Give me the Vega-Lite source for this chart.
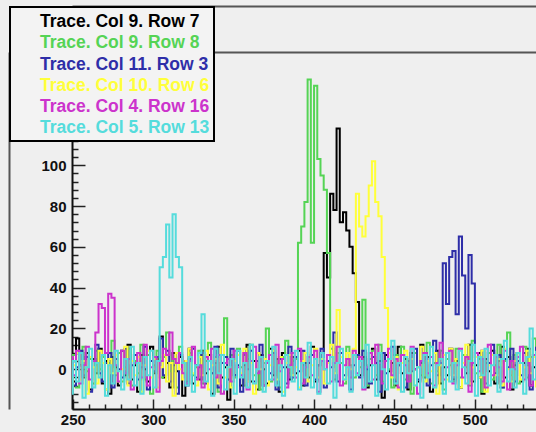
{
"$schema": "https://vega.github.io/schema/vega-lite/v6.json",
"width": 464, "height": 357,
"autosize": {"type": "none"},
"padding": {"left": 72, "top": 52, "right": 0, "bottom": 23},
"background": "#efefef",
"config": {"view": {"stroke": null}, "axis": {"labelFont": "Liberation Sans", "labelFontWeight": "bold", "labelFontSize": 15, "labelColor": "#111111", "grid": false, "title": null, "domainColor": "#111111", "tickColor": "#222222"}},
"datasets": {"traces": [
{"s":"Trace. Col 9. Row 7","x":248,"y":3},{"s":"Trace. Col 9. Row 7","x":250,"y":-6},{"s":"Trace. Col 9. Row 7","x":252,"y":15},{"s":"Trace. Col 9. Row 7","x":254,"y":2},{"s":"Trace. Col 9. Row 7","x":256,"y":-4},{"s":"Trace. Col 9. Row 7","x":258,"y":8},{"s":"Trace. Col 9. Row 7","x":260,"y":-10},{"s":"Trace. Col 9. Row 7","x":262,"y":5},{"s":"Trace. Col 9. Row 7","x":264,"y":-2},{"s":"Trace. Col 9. Row 7","x":266,"y":10},
{"s":"Trace. Col 9. Row 7","x":268,"y":-7},{"s":"Trace. Col 9. Row 7","x":270,"y":4},{"s":"Trace. Col 9. Row 7","x":272,"y":-12},{"s":"Trace. Col 9. Row 7","x":274,"y":6},{"s":"Trace. Col 9. Row 7","x":276,"y":1},{"s":"Trace. Col 9. Row 7","x":278,"y":-8},{"s":"Trace. Col 9. Row 7","x":280,"y":9},{"s":"Trace. Col 9. Row 7","x":282,"y":-3},{"s":"Trace. Col 9. Row 7","x":284,"y":12},{"s":"Trace. Col 9. Row 7","x":286,"y":-5},
{"s":"Trace. Col 9. Row 7","x":288,"y":2},{"s":"Trace. Col 9. Row 7","x":290,"y":-11},{"s":"Trace. Col 9. Row 7","x":292,"y":7},{"s":"Trace. Col 9. Row 7","x":294,"y":0},{"s":"Trace. Col 9. Row 7","x":296,"y":-6},{"s":"Trace. Col 9. Row 7","x":298,"y":11},{"s":"Trace. Col 9. Row 7","x":300,"y":-2},{"s":"Trace. Col 9. Row 7","x":302,"y":5},{"s":"Trace. Col 9. Row 7","x":304,"y":16},{"s":"Trace. Col 9. Row 7","x":306,"y":-4},
{"s":"Trace. Col 9. Row 7","x":308,"y":3},{"s":"Trace. Col 9. Row 7","x":310,"y":-9},{"s":"Trace. Col 9. Row 7","x":312,"y":8},{"s":"Trace. Col 9. Row 7","x":314,"y":-1},{"s":"Trace. Col 9. Row 7","x":316,"y":6},{"s":"Trace. Col 9. Row 7","x":318,"y":-13},{"s":"Trace. Col 9. Row 7","x":320,"y":4},{"s":"Trace. Col 9. Row 7","x":322,"y":10},{"s":"Trace. Col 9. Row 7","x":324,"y":-7},{"s":"Trace. Col 9. Row 7","x":326,"y":2},
{"s":"Trace. Col 9. Row 7","x":328,"y":-5},{"s":"Trace. Col 9. Row 7","x":330,"y":9},{"s":"Trace. Col 9. Row 7","x":332,"y":-2},{"s":"Trace. Col 9. Row 7","x":334,"y":7},{"s":"Trace. Col 9. Row 7","x":336,"y":-12},{"s":"Trace. Col 9. Row 7","x":338,"y":3},{"s":"Trace. Col 9. Row 7","x":340,"y":11},{"s":"Trace. Col 9. Row 7","x":342,"y":-4},{"s":"Trace. Col 9. Row 7","x":344,"y":1},{"s":"Trace. Col 9. Row 7","x":346,"y":-15},
{"s":"Trace. Col 9. Row 7","x":348,"y":5},{"s":"Trace. Col 9. Row 7","x":350,"y":-3},{"s":"Trace. Col 9. Row 7","x":352,"y":9},{"s":"Trace. Col 9. Row 7","x":354,"y":-8},{"s":"Trace. Col 9. Row 7","x":356,"y":2},{"s":"Trace. Col 9. Row 7","x":358,"y":12},{"s":"Trace. Col 9. Row 7","x":360,"y":-6},{"s":"Trace. Col 9. Row 7","x":362,"y":4},{"s":"Trace. Col 9. Row 7","x":364,"y":-10},{"s":"Trace. Col 9. Row 7","x":366,"y":7},
{"s":"Trace. Col 9. Row 7","x":368,"y":0},{"s":"Trace. Col 9. Row 7","x":370,"y":-7},{"s":"Trace. Col 9. Row 7","x":372,"y":10},{"s":"Trace. Col 9. Row 7","x":374,"y":-3},{"s":"Trace. Col 9. Row 7","x":376,"y":5},{"s":"Trace. Col 9. Row 7","x":378,"y":-11},{"s":"Trace. Col 9. Row 7","x":380,"y":8},{"s":"Trace. Col 9. Row 7","x":382,"y":1},{"s":"Trace. Col 9. Row 7","x":384,"y":-5},{"s":"Trace. Col 9. Row 7","x":386,"y":6},
{"s":"Trace. Col 9. Row 7","x":388,"y":-2},{"s":"Trace. Col 9. Row 7","x":390,"y":9},{"s":"Trace. Col 9. Row 7","x":392,"y":-8},{"s":"Trace. Col 9. Row 7","x":394,"y":3},{"s":"Trace. Col 9. Row 7","x":396,"y":-4},{"s":"Trace. Col 9. Row 7","x":398,"y":11},{"s":"Trace. Col 9. Row 7","x":400,"y":-6},{"s":"Trace. Col 9. Row 7","x":402,"y":2},{"s":"Trace. Col 9. Row 7","x":404,"y":8},{"s":"Trace. Col 9. Row 7","x":406,"y":57},
{"s":"Trace. Col 9. Row 7","x":408,"y":45},{"s":"Trace. Col 9. Row 7","x":410,"y":86},{"s":"Trace. Col 9. Row 7","x":412,"y":78},{"s":"Trace. Col 9. Row 7","x":414,"y":118},{"s":"Trace. Col 9. Row 7","x":416,"y":72},{"s":"Trace. Col 9. Row 7","x":418,"y":77},{"s":"Trace. Col 9. Row 7","x":420,"y":68},{"s":"Trace. Col 9. Row 7","x":422,"y":60},{"s":"Trace. Col 9. Row 7","x":424,"y":47},{"s":"Trace. Col 9. Row 7","x":426,"y":33},
{"s":"Trace. Col 9. Row 7","x":428,"y":-3},{"s":"Trace. Col 9. Row 7","x":430,"y":6},{"s":"Trace. Col 9. Row 7","x":432,"y":-9},{"s":"Trace. Col 9. Row 7","x":434,"y":2},{"s":"Trace. Col 9. Row 7","x":436,"y":10},{"s":"Trace. Col 9. Row 7","x":438,"y":-5},{"s":"Trace. Col 9. Row 7","x":440,"y":4},{"s":"Trace. Col 9. Row 7","x":442,"y":-14},{"s":"Trace. Col 9. Row 7","x":444,"y":7},{"s":"Trace. Col 9. Row 7","x":446,"y":-1},
{"s":"Trace. Col 9. Row 7","x":448,"y":3},{"s":"Trace. Col 9. Row 7","x":450,"y":-8},{"s":"Trace. Col 9. Row 7","x":452,"y":11},{"s":"Trace. Col 9. Row 7","x":454,"y":-2},{"s":"Trace. Col 9. Row 7","x":456,"y":5},{"s":"Trace. Col 9. Row 7","x":458,"y":-10},{"s":"Trace. Col 9. Row 7","x":460,"y":8},{"s":"Trace. Col 9. Row 7","x":462,"y":0},{"s":"Trace. Col 9. Row 7","x":464,"y":-6},{"s":"Trace. Col 9. Row 7","x":466,"y":12},
{"s":"Trace. Col 9. Row 7","x":468,"y":-4},{"s":"Trace. Col 9. Row 7","x":470,"y":6},{"s":"Trace. Col 9. Row 7","x":472,"y":-11},{"s":"Trace. Col 9. Row 7","x":474,"y":3},{"s":"Trace. Col 9. Row 7","x":476,"y":9},{"s":"Trace. Col 9. Row 7","x":478,"y":-7},{"s":"Trace. Col 9. Row 7","x":480,"y":1},{"s":"Trace. Col 9. Row 7","x":482,"y":-3},{"s":"Trace. Col 9. Row 7","x":484,"y":10},{"s":"Trace. Col 9. Row 7","x":486,"y":-5},
{"s":"Trace. Col 9. Row 7","x":488,"y":4},{"s":"Trace. Col 9. Row 7","x":490,"y":-9},{"s":"Trace. Col 9. Row 7","x":492,"y":7},{"s":"Trace. Col 9. Row 7","x":494,"y":-2},{"s":"Trace. Col 9. Row 7","x":496,"y":12},{"s":"Trace. Col 9. Row 7","x":498,"y":-6},{"s":"Trace. Col 9. Row 7","x":500,"y":2},{"s":"Trace. Col 9. Row 7","x":502,"y":8},{"s":"Trace. Col 9. Row 7","x":504,"y":-12},{"s":"Trace. Col 9. Row 7","x":506,"y":5},
{"s":"Trace. Col 9. Row 7","x":508,"y":-1},{"s":"Trace. Col 9. Row 7","x":510,"y":9},{"s":"Trace. Col 9. Row 7","x":512,"y":-7},{"s":"Trace. Col 9. Row 7","x":514,"y":4},{"s":"Trace. Col 9. Row 7","x":516,"y":11},{"s":"Trace. Col 9. Row 7","x":518,"y":-4},{"s":"Trace. Col 9. Row 7","x":520,"y":6},{"s":"Trace. Col 9. Row 7","x":522,"y":-10},{"s":"Trace. Col 9. Row 7","x":524,"y":2},{"s":"Trace. Col 9. Row 7","x":526,"y":8},
{"s":"Trace. Col 9. Row 7","x":528,"y":-6},{"s":"Trace. Col 9. Row 7","x":530,"y":3},{"s":"Trace. Col 9. Row 7","x":532,"y":10},{"s":"Trace. Col 9. Row 7","x":534,"y":-8},{"s":"Trace. Col 9. Row 7","x":536,"y":1},{"s":"Trace. Col 9. Row 7","x":538,"y":5},

{"s":"Trace. Col 9. Row 8","x":248,"y":-4},{"s":"Trace. Col 9. Row 8","x":250,"y":7},{"s":"Trace. Col 9. Row 8","x":252,"y":-9},{"s":"Trace. Col 9. Row 8","x":254,"y":2},{"s":"Trace. Col 9. Row 8","x":256,"y":11},{"s":"Trace. Col 9. Row 8","x":258,"y":-1},{"s":"Trace. Col 9. Row 8","x":260,"y":5},{"s":"Trace. Col 9. Row 8","x":262,"y":-7},{"s":"Trace. Col 9. Row 8","x":264,"y":9},{"s":"Trace. Col 9. Row 8","x":266,"y":0},
{"s":"Trace. Col 9. Row 8","x":268,"y":6},{"s":"Trace. Col 9. Row 8","x":270,"y":-10},{"s":"Trace. Col 9. Row 8","x":272,"y":3},{"s":"Trace. Col 9. Row 8","x":274,"y":14},{"s":"Trace. Col 9. Row 8","x":276,"y":-3},{"s":"Trace. Col 9. Row 8","x":278,"y":8},{"s":"Trace. Col 9. Row 8","x":280,"y":-6},{"s":"Trace. Col 9. Row 8","x":282,"y":1},{"s":"Trace. Col 9. Row 8","x":284,"y":10},{"s":"Trace. Col 9. Row 8","x":286,"y":-8},
{"s":"Trace. Col 9. Row 8","x":288,"y":4},{"s":"Trace. Col 9. Row 8","x":290,"y":-2},{"s":"Trace. Col 9. Row 8","x":292,"y":12},{"s":"Trace. Col 9. Row 8","x":294,"y":-5},{"s":"Trace. Col 9. Row 8","x":296,"y":7},{"s":"Trace. Col 9. Row 8","x":298,"y":-12},{"s":"Trace. Col 9. Row 8","x":300,"y":2},{"s":"Trace. Col 9. Row 8","x":302,"y":9},{"s":"Trace. Col 9. Row 8","x":304,"y":-4},{"s":"Trace. Col 9. Row 8","x":306,"y":6},
{"s":"Trace. Col 9. Row 8","x":308,"y":18},{"s":"Trace. Col 9. Row 8","x":310,"y":-1},{"s":"Trace. Col 9. Row 8","x":312,"y":5},{"s":"Trace. Col 9. Row 8","x":314,"y":-9},{"s":"Trace. Col 9. Row 8","x":316,"y":11},{"s":"Trace. Col 9. Row 8","x":318,"y":3},{"s":"Trace. Col 9. Row 8","x":320,"y":-6},{"s":"Trace. Col 9. Row 8","x":322,"y":8},{"s":"Trace. Col 9. Row 8","x":324,"y":-3},{"s":"Trace. Col 9. Row 8","x":326,"y":1},
{"s":"Trace. Col 9. Row 8","x":328,"y":9},{"s":"Trace. Col 9. Row 8","x":330,"y":-7},{"s":"Trace. Col 9. Row 8","x":332,"y":4},{"s":"Trace. Col 9. Row 8","x":334,"y":13},{"s":"Trace. Col 9. Row 8","x":336,"y":-2},{"s":"Trace. Col 9. Row 8","x":338,"y":6},{"s":"Trace. Col 9. Row 8","x":340,"y":-11},{"s":"Trace. Col 9. Row 8","x":342,"y":3},{"s":"Trace. Col 9. Row 8","x":344,"y":25},{"s":"Trace. Col 9. Row 8","x":346,"y":-5},
{"s":"Trace. Col 9. Row 8","x":348,"y":7},{"s":"Trace. Col 9. Row 8","x":350,"y":-4},{"s":"Trace. Col 9. Row 8","x":352,"y":10},{"s":"Trace. Col 9. Row 8","x":354,"y":1},{"s":"Trace. Col 9. Row 8","x":356,"y":-8},{"s":"Trace. Col 9. Row 8","x":358,"y":5},{"s":"Trace. Col 9. Row 8","x":360,"y":12},{"s":"Trace. Col 9. Row 8","x":362,"y":-3},{"s":"Trace. Col 9. Row 8","x":364,"y":8},{"s":"Trace. Col 9. Row 8","x":366,"y":-10},
{"s":"Trace. Col 9. Row 8","x":368,"y":3},{"s":"Trace. Col 9. Row 8","x":370,"y":20},{"s":"Trace. Col 9. Row 8","x":372,"y":-6},{"s":"Trace. Col 9. Row 8","x":374,"y":9},{"s":"Trace. Col 9. Row 8","x":376,"y":2},{"s":"Trace. Col 9. Row 8","x":378,"y":-9},{"s":"Trace. Col 9. Row 8","x":380,"y":6},{"s":"Trace. Col 9. Row 8","x":382,"y":14},{"s":"Trace. Col 9. Row 8","x":384,"y":-2},{"s":"Trace. Col 9. Row 8","x":386,"y":4},
{"s":"Trace. Col 9. Row 8","x":388,"y":5},{"s":"Trace. Col 9. Row 8","x":390,"y":62},{"s":"Trace. Col 9. Row 8","x":392,"y":70},{"s":"Trace. Col 9. Row 8","x":394,"y":82},{"s":"Trace. Col 9. Row 8","x":396,"y":142},{"s":"Trace. Col 9. Row 8","x":398,"y":62},{"s":"Trace. Col 9. Row 8","x":400,"y":139},{"s":"Trace. Col 9. Row 8","x":402,"y":103},{"s":"Trace. Col 9. Row 8","x":404,"y":95},{"s":"Trace. Col 9. Row 8","x":406,"y":88},
{"s":"Trace. Col 9. Row 8","x":408,"y":57},{"s":"Trace. Col 9. Row 8","x":410,"y":10},{"s":"Trace. Col 9. Row 8","x":412,"y":-5},{"s":"Trace. Col 9. Row 8","x":414,"y":8},{"s":"Trace. Col 9. Row 8","x":416,"y":3},{"s":"Trace. Col 9. Row 8","x":418,"y":-7},{"s":"Trace. Col 9. Row 8","x":420,"y":11},{"s":"Trace. Col 9. Row 8","x":422,"y":2},{"s":"Trace. Col 9. Row 8","x":424,"y":-4},{"s":"Trace. Col 9. Row 8","x":426,"y":6},
{"s":"Trace. Col 9. Row 8","x":428,"y":1},{"s":"Trace. Col 9. Row 8","x":430,"y":34},{"s":"Trace. Col 9. Row 8","x":432,"y":-8},{"s":"Trace. Col 9. Row 8","x":434,"y":5},{"s":"Trace. Col 9. Row 8","x":436,"y":9},{"s":"Trace. Col 9. Row 8","x":438,"y":-3},{"s":"Trace. Col 9. Row 8","x":440,"y":12},{"s":"Trace. Col 9. Row 8","x":442,"y":-6},{"s":"Trace. Col 9. Row 8","x":444,"y":4},{"s":"Trace. Col 9. Row 8","x":446,"y":0},
{"s":"Trace. Col 9. Row 8","x":448,"y":-9},{"s":"Trace. Col 9. Row 8","x":450,"y":7},{"s":"Trace. Col 9. Row 8","x":452,"y":2},{"s":"Trace. Col 9. Row 8","x":454,"y":11},{"s":"Trace. Col 9. Row 8","x":456,"y":-5},{"s":"Trace. Col 9. Row 8","x":458,"y":4},{"s":"Trace. Col 9. Row 8","x":460,"y":-12},{"s":"Trace. Col 9. Row 8","x":462,"y":8},{"s":"Trace. Col 9. Row 8","x":464,"y":1},{"s":"Trace. Col 9. Row 8","x":466,"y":-3},
{"s":"Trace. Col 9. Row 8","x":468,"y":6},{"s":"Trace. Col 9. Row 8","x":470,"y":13},{"s":"Trace. Col 9. Row 8","x":472,"y":-7},{"s":"Trace. Col 9. Row 8","x":474,"y":3},{"s":"Trace. Col 9. Row 8","x":476,"y":-1},{"s":"Trace. Col 9. Row 8","x":478,"y":9},{"s":"Trace. Col 9. Row 8","x":480,"y":-10},{"s":"Trace. Col 9. Row 8","x":482,"y":5},{"s":"Trace. Col 9. Row 8","x":484,"y":2},{"s":"Trace. Col 9. Row 8","x":486,"y":-6},
{"s":"Trace. Col 9. Row 8","x":488,"y":10},{"s":"Trace. Col 9. Row 8","x":490,"y":-4},{"s":"Trace. Col 9. Row 8","x":492,"y":7},{"s":"Trace. Col 9. Row 8","x":494,"y":1},{"s":"Trace. Col 9. Row 8","x":496,"y":-8},{"s":"Trace. Col 9. Row 8","x":498,"y":14},{"s":"Trace. Col 9. Row 8","x":500,"y":-2},{"s":"Trace. Col 9. Row 8","x":502,"y":5},{"s":"Trace. Col 9. Row 8","x":504,"y":-11},{"s":"Trace. Col 9. Row 8","x":506,"y":3},
{"s":"Trace. Col 9. Row 8","x":508,"y":8},{"s":"Trace. Col 9. Row 8","x":510,"y":-5},{"s":"Trace. Col 9. Row 8","x":512,"y":2},{"s":"Trace. Col 9. Row 8","x":514,"y":12},{"s":"Trace. Col 9. Row 8","x":516,"y":-9},{"s":"Trace. Col 9. Row 8","x":518,"y":4},{"s":"Trace. Col 9. Row 8","x":520,"y":18},{"s":"Trace. Col 9. Row 8","x":522,"y":-3},{"s":"Trace. Col 9. Row 8","x":524,"y":7},{"s":"Trace. Col 9. Row 8","x":526,"y":-7},
{"s":"Trace. Col 9. Row 8","x":528,"y":3},{"s":"Trace. Col 9. Row 8","x":530,"y":11},{"s":"Trace. Col 9. Row 8","x":532,"y":-4},{"s":"Trace. Col 9. Row 8","x":534,"y":6},{"s":"Trace. Col 9. Row 8","x":536,"y":15},{"s":"Trace. Col 9. Row 8","x":538,"y":-2},

{"s":"Trace. Col 11. Row 3","x":248,"y":5},{"s":"Trace. Col 11. Row 3","x":250,"y":-8},{"s":"Trace. Col 11. Row 3","x":252,"y":1},{"s":"Trace. Col 11. Row 3","x":254,"y":9},{"s":"Trace. Col 11. Row 3","x":256,"y":-3},{"s":"Trace. Col 11. Row 3","x":258,"y":6},{"s":"Trace. Col 11. Row 3","x":260,"y":-11},{"s":"Trace. Col 11. Row 3","x":262,"y":4},{"s":"Trace. Col 11. Row 3","x":264,"y":12},{"s":"Trace. Col 11. Row 3","x":266,"y":-2},
{"s":"Trace. Col 11. Row 3","x":268,"y":-6},{"s":"Trace. Col 11. Row 3","x":270,"y":3},{"s":"Trace. Col 11. Row 3","x":272,"y":8},{"s":"Trace. Col 11. Row 3","x":274,"y":-9},{"s":"Trace. Col 11. Row 3","x":276,"y":5},{"s":"Trace. Col 11. Row 3","x":278,"y":0},{"s":"Trace. Col 11. Row 3","x":280,"y":-4},{"s":"Trace. Col 11. Row 3","x":282,"y":10},{"s":"Trace. Col 11. Row 3","x":284,"y":-7},{"s":"Trace. Col 11. Row 3","x":286,"y":2},
{"s":"Trace. Col 11. Row 3","x":288,"y":7},{"s":"Trace. Col 11. Row 3","x":290,"y":-5},{"s":"Trace. Col 11. Row 3","x":292,"y":1},{"s":"Trace. Col 11. Row 3","x":294,"y":11},{"s":"Trace. Col 11. Row 3","x":296,"y":-10},{"s":"Trace. Col 11. Row 3","x":298,"y":4},{"s":"Trace. Col 11. Row 3","x":300,"y":-1},{"s":"Trace. Col 11. Row 3","x":302,"y":6},{"s":"Trace. Col 11. Row 3","x":304,"y":15},{"s":"Trace. Col 11. Row 3","x":306,"y":-3},
{"s":"Trace. Col 11. Row 3","x":308,"y":9},{"s":"Trace. Col 11. Row 3","x":310,"y":-6},{"s":"Trace. Col 11. Row 3","x":312,"y":2},{"s":"Trace. Col 11. Row 3","x":314,"y":-12},{"s":"Trace. Col 11. Row 3","x":316,"y":7},{"s":"Trace. Col 11. Row 3","x":318,"y":3},{"s":"Trace. Col 11. Row 3","x":320,"y":-8},{"s":"Trace. Col 11. Row 3","x":322,"y":5},{"s":"Trace. Col 11. Row 3","x":324,"y":10},{"s":"Trace. Col 11. Row 3","x":326,"y":-4},
{"s":"Trace. Col 11. Row 3","x":328,"y":1},{"s":"Trace. Col 11. Row 3","x":330,"y":8},{"s":"Trace. Col 11. Row 3","x":332,"y":-7},{"s":"Trace. Col 11. Row 3","x":334,"y":4},{"s":"Trace. Col 11. Row 3","x":336,"y":-2},{"s":"Trace. Col 11. Row 3","x":338,"y":11},{"s":"Trace. Col 11. Row 3","x":340,"y":-9},{"s":"Trace. Col 11. Row 3","x":342,"y":3},{"s":"Trace. Col 11. Row 3","x":344,"y":6},{"s":"Trace. Col 11. Row 3","x":346,"y":-5},
{"s":"Trace. Col 11. Row 3","x":348,"y":10},{"s":"Trace. Col 11. Row 3","x":350,"y":-3},{"s":"Trace. Col 11. Row 3","x":352,"y":2},{"s":"Trace. Col 11. Row 3","x":354,"y":-11},{"s":"Trace. Col 11. Row 3","x":356,"y":7},{"s":"Trace. Col 11. Row 3","x":358,"y":0},{"s":"Trace. Col 11. Row 3","x":360,"y":9},{"s":"Trace. Col 11. Row 3","x":362,"y":-6},{"s":"Trace. Col 11. Row 3","x":364,"y":4},{"s":"Trace. Col 11. Row 3","x":366,"y":12},
{"s":"Trace. Col 11. Row 3","x":368,"y":-8},{"s":"Trace. Col 11. Row 3","x":370,"y":3},{"s":"Trace. Col 11. Row 3","x":372,"y":-2},{"s":"Trace. Col 11. Row 3","x":374,"y":8},{"s":"Trace. Col 11. Row 3","x":376,"y":-10},{"s":"Trace. Col 11. Row 3","x":378,"y":5},{"s":"Trace. Col 11. Row 3","x":380,"y":1},{"s":"Trace. Col 11. Row 3","x":382,"y":-7},{"s":"Trace. Col 11. Row 3","x":384,"y":11},{"s":"Trace. Col 11. Row 3","x":386,"y":-4},
{"s":"Trace. Col 11. Row 3","x":388,"y":6},{"s":"Trace. Col 11. Row 3","x":390,"y":-1},{"s":"Trace. Col 11. Row 3","x":392,"y":9},{"s":"Trace. Col 11. Row 3","x":394,"y":-8},{"s":"Trace. Col 11. Row 3","x":396,"y":3},{"s":"Trace. Col 11. Row 3","x":398,"y":7},{"s":"Trace. Col 11. Row 3","x":400,"y":-5},{"s":"Trace. Col 11. Row 3","x":402,"y":2},{"s":"Trace. Col 11. Row 3","x":404,"y":10},{"s":"Trace. Col 11. Row 3","x":406,"y":-9},
{"s":"Trace. Col 11. Row 3","x":408,"y":4},{"s":"Trace. Col 11. Row 3","x":410,"y":1},{"s":"Trace. Col 11. Row 3","x":412,"y":18},{"s":"Trace. Col 11. Row 3","x":414,"y":-6},{"s":"Trace. Col 11. Row 3","x":416,"y":8},{"s":"Trace. Col 11. Row 3","x":418,"y":-3},{"s":"Trace. Col 11. Row 3","x":420,"y":5},{"s":"Trace. Col 11. Row 3","x":422,"y":-10},{"s":"Trace. Col 11. Row 3","x":424,"y":2},{"s":"Trace. Col 11. Row 3","x":426,"y":7},
{"s":"Trace. Col 11. Row 3","x":428,"y":-4},{"s":"Trace. Col 11. Row 3","x":430,"y":9},{"s":"Trace. Col 11. Row 3","x":432,"y":0},{"s":"Trace. Col 11. Row 3","x":434,"y":-7},{"s":"Trace. Col 11. Row 3","x":436,"y":6},{"s":"Trace. Col 11. Row 3","x":438,"y":3},{"s":"Trace. Col 11. Row 3","x":440,"y":-11},{"s":"Trace. Col 11. Row 3","x":442,"y":8},{"s":"Trace. Col 11. Row 3","x":444,"y":-2},{"s":"Trace. Col 11. Row 3","x":446,"y":5},
{"s":"Trace. Col 11. Row 3","x":448,"y":11},{"s":"Trace. Col 11. Row 3","x":450,"y":-6},{"s":"Trace. Col 11. Row 3","x":452,"y":2},{"s":"Trace. Col 11. Row 3","x":454,"y":7},{"s":"Trace. Col 11. Row 3","x":456,"y":-9},{"s":"Trace. Col 11. Row 3","x":458,"y":4},{"s":"Trace. Col 11. Row 3","x":460,"y":-1},{"s":"Trace. Col 11. Row 3","x":462,"y":10},{"s":"Trace. Col 11. Row 3","x":464,"y":-5},{"s":"Trace. Col 11. Row 3","x":466,"y":3},
{"s":"Trace. Col 11. Row 3","x":468,"y":8},{"s":"Trace. Col 11. Row 3","x":470,"y":-8},{"s":"Trace. Col 11. Row 3","x":472,"y":2},{"s":"Trace. Col 11. Row 3","x":474,"y":14},{"s":"Trace. Col 11. Row 3","x":476,"y":-3},{"s":"Trace. Col 11. Row 3","x":478,"y":3},{"s":"Trace. Col 11. Row 3","x":480,"y":52},{"s":"Trace. Col 11. Row 3","x":482,"y":32},{"s":"Trace. Col 11. Row 3","x":484,"y":55},{"s":"Trace. Col 11. Row 3","x":486,"y":58},
{"s":"Trace. Col 11. Row 3","x":488,"y":27},{"s":"Trace. Col 11. Row 3","x":490,"y":65},{"s":"Trace. Col 11. Row 3","x":492,"y":46},{"s":"Trace. Col 11. Row 3","x":494,"y":20},{"s":"Trace. Col 11. Row 3","x":496,"y":56},{"s":"Trace. Col 11. Row 3","x":498,"y":42},{"s":"Trace. Col 11. Row 3","x":500,"y":6},{"s":"Trace. Col 11. Row 3","x":502,"y":-4},{"s":"Trace. Col 11. Row 3","x":504,"y":9},{"s":"Trace. Col 11. Row 3","x":506,"y":-7},
{"s":"Trace. Col 11. Row 3","x":508,"y":3},{"s":"Trace. Col 11. Row 3","x":510,"y":12},{"s":"Trace. Col 11. Row 3","x":512,"y":-2},{"s":"Trace. Col 11. Row 3","x":514,"y":7},{"s":"Trace. Col 11. Row 3","x":516,"y":-9},{"s":"Trace. Col 11. Row 3","x":518,"y":5},{"s":"Trace. Col 11. Row 3","x":520,"y":1},{"s":"Trace. Col 11. Row 3","x":522,"y":10},{"s":"Trace. Col 11. Row 3","x":524,"y":-6},{"s":"Trace. Col 11. Row 3","x":526,"y":4},
{"s":"Trace. Col 11. Row 3","x":528,"y":-3},{"s":"Trace. Col 11. Row 3","x":530,"y":8},{"s":"Trace. Col 11. Row 3","x":532,"y":2},{"s":"Trace. Col 11. Row 3","x":534,"y":-10},{"s":"Trace. Col 11. Row 3","x":536,"y":6},{"s":"Trace. Col 11. Row 3","x":538,"y":11},

{"s":"Trace. Col 10. Row 6","x":248,"y":-9},{"s":"Trace. Col 10. Row 6","x":250,"y":2},{"s":"Trace. Col 10. Row 6","x":252,"y":8},{"s":"Trace. Col 10. Row 6","x":254,"y":-5},{"s":"Trace. Col 10. Row 6","x":256,"y":4},{"s":"Trace. Col 10. Row 6","x":258,"y":-12},{"s":"Trace. Col 10. Row 6","x":260,"y":6},{"s":"Trace. Col 10. Row 6","x":262,"y":1},{"s":"Trace. Col 10. Row 6","x":264,"y":-7},{"s":"Trace. Col 10. Row 6","x":266,"y":9},
{"s":"Trace. Col 10. Row 6","x":268,"y":3},{"s":"Trace. Col 10. Row 6","x":270,"y":-10},{"s":"Trace. Col 10. Row 6","x":272,"y":5},{"s":"Trace. Col 10. Row 6","x":274,"y":-2},{"s":"Trace. Col 10. Row 6","x":276,"y":7},{"s":"Trace. Col 10. Row 6","x":278,"y":-6},{"s":"Trace. Col 10. Row 6","x":280,"y":0},{"s":"Trace. Col 10. Row 6","x":282,"y":11},{"s":"Trace. Col 10. Row 6","x":284,"y":-8},{"s":"Trace. Col 10. Row 6","x":286,"y":4},
{"s":"Trace. Col 10. Row 6","x":288,"y":-3},{"s":"Trace. Col 10. Row 6","x":290,"y":6},{"s":"Trace. Col 10. Row 6","x":292,"y":-11},{"s":"Trace. Col 10. Row 6","x":294,"y":2},{"s":"Trace. Col 10. Row 6","x":296,"y":9},{"s":"Trace. Col 10. Row 6","x":298,"y":-4},{"s":"Trace. Col 10. Row 6","x":300,"y":5},{"s":"Trace. Col 10. Row 6","x":302,"y":-9},{"s":"Trace. Col 10. Row 6","x":304,"y":1},{"s":"Trace. Col 10. Row 6","x":306,"y":7},
{"s":"Trace. Col 10. Row 6","x":308,"y":-6},{"s":"Trace. Col 10. Row 6","x":310,"y":3},{"s":"Trace. Col 10. Row 6","x":312,"y":-13},{"s":"Trace. Col 10. Row 6","x":314,"y":8},{"s":"Trace. Col 10. Row 6","x":316,"y":0},{"s":"Trace. Col 10. Row 6","x":318,"y":-5},{"s":"Trace. Col 10. Row 6","x":320,"y":4},{"s":"Trace. Col 10. Row 6","x":322,"y":10},{"s":"Trace. Col 10. Row 6","x":324,"y":-2},{"s":"Trace. Col 10. Row 6","x":326,"y":-8},
{"s":"Trace. Col 10. Row 6","x":328,"y":6},{"s":"Trace. Col 10. Row 6","x":330,"y":-3},{"s":"Trace. Col 10. Row 6","x":332,"y":9},{"s":"Trace. Col 10. Row 6","x":334,"y":-10},{"s":"Trace. Col 10. Row 6","x":336,"y":2},{"s":"Trace. Col 10. Row 6","x":338,"y":5},{"s":"Trace. Col 10. Row 6","x":340,"y":-7},{"s":"Trace. Col 10. Row 6","x":342,"y":12},{"s":"Trace. Col 10. Row 6","x":344,"y":-4},{"s":"Trace. Col 10. Row 6","x":346,"y":1},
{"s":"Trace. Col 10. Row 6","x":348,"y":-9},{"s":"Trace. Col 10. Row 6","x":350,"y":4},{"s":"Trace. Col 10. Row 6","x":352,"y":7},{"s":"Trace. Col 10. Row 6","x":354,"y":-2},{"s":"Trace. Col 10. Row 6","x":356,"y":10},{"s":"Trace. Col 10. Row 6","x":358,"y":-6},{"s":"Trace. Col 10. Row 6","x":360,"y":3},{"s":"Trace. Col 10. Row 6","x":362,"y":-12},{"s":"Trace. Col 10. Row 6","x":364,"y":8},{"s":"Trace. Col 10. Row 6","x":366,"y":0},
{"s":"Trace. Col 10. Row 6","x":368,"y":5},{"s":"Trace. Col 10. Row 6","x":370,"y":-8},{"s":"Trace. Col 10. Row 6","x":372,"y":2},{"s":"Trace. Col 10. Row 6","x":374,"y":9},{"s":"Trace. Col 10. Row 6","x":376,"y":-5},{"s":"Trace. Col 10. Row 6","x":378,"y":6},{"s":"Trace. Col 10. Row 6","x":380,"y":-11},{"s":"Trace. Col 10. Row 6","x":382,"y":3},{"s":"Trace. Col 10. Row 6","x":384,"y":7},{"s":"Trace. Col 10. Row 6","x":386,"y":-3},
{"s":"Trace. Col 10. Row 6","x":388,"y":1},{"s":"Trace. Col 10. Row 6","x":390,"y":-9},{"s":"Trace. Col 10. Row 6","x":392,"y":4},{"s":"Trace. Col 10. Row 6","x":394,"y":8},{"s":"Trace. Col 10. Row 6","x":396,"y":-6},{"s":"Trace. Col 10. Row 6","x":398,"y":2},{"s":"Trace. Col 10. Row 6","x":400,"y":10},{"s":"Trace. Col 10. Row 6","x":402,"y":-4},{"s":"Trace. Col 10. Row 6","x":404,"y":5},{"s":"Trace. Col 10. Row 6","x":406,"y":-7},
{"s":"Trace. Col 10. Row 6","x":408,"y":3},{"s":"Trace. Col 10. Row 6","x":410,"y":12},{"s":"Trace. Col 10. Row 6","x":412,"y":-2},{"s":"Trace. Col 10. Row 6","x":414,"y":29},{"s":"Trace. Col 10. Row 6","x":416,"y":6},{"s":"Trace. Col 10. Row 6","x":418,"y":-5},{"s":"Trace. Col 10. Row 6","x":420,"y":8},{"s":"Trace. Col 10. Row 6","x":422,"y":0},{"s":"Trace. Col 10. Row 6","x":424,"y":10},{"s":"Trace. Col 10. Row 6","x":426,"y":86},
{"s":"Trace. Col 10. Row 6","x":428,"y":70},{"s":"Trace. Col 10. Row 6","x":430,"y":65},{"s":"Trace. Col 10. Row 6","x":432,"y":75},{"s":"Trace. Col 10. Row 6","x":434,"y":90},{"s":"Trace. Col 10. Row 6","x":436,"y":102},{"s":"Trace. Col 10. Row 6","x":438,"y":82},{"s":"Trace. Col 10. Row 6","x":440,"y":75},{"s":"Trace. Col 10. Row 6","x":442,"y":55},{"s":"Trace. Col 10. Row 6","x":444,"y":30},{"s":"Trace. Col 10. Row 6","x":446,"y":8},
{"s":"Trace. Col 10. Row 6","x":448,"y":-4},{"s":"Trace. Col 10. Row 6","x":450,"y":6},{"s":"Trace. Col 10. Row 6","x":452,"y":-10},{"s":"Trace. Col 10. Row 6","x":454,"y":3},{"s":"Trace. Col 10. Row 6","x":456,"y":9},{"s":"Trace. Col 10. Row 6","x":458,"y":-2},{"s":"Trace. Col 10. Row 6","x":460,"y":5},{"s":"Trace. Col 10. Row 6","x":462,"y":-8},{"s":"Trace. Col 10. Row 6","x":464,"y":1},{"s":"Trace. Col 10. Row 6","x":466,"y":11},
{"s":"Trace. Col 10. Row 6","x":468,"y":-6},{"s":"Trace. Col 10. Row 6","x":470,"y":4},{"s":"Trace. Col 10. Row 6","x":472,"y":-1},{"s":"Trace. Col 10. Row 6","x":474,"y":8},{"s":"Trace. Col 10. Row 6","x":476,"y":-12},{"s":"Trace. Col 10. Row 6","x":478,"y":2},{"s":"Trace. Col 10. Row 6","x":480,"y":7},{"s":"Trace. Col 10. Row 6","x":482,"y":-5},{"s":"Trace. Col 10. Row 6","x":484,"y":10},{"s":"Trace. Col 10. Row 6","x":486,"y":-3},
{"s":"Trace. Col 10. Row 6","x":488,"y":5},{"s":"Trace. Col 10. Row 6","x":490,"y":-9},{"s":"Trace. Col 10. Row 6","x":492,"y":3},{"s":"Trace. Col 10. Row 6","x":494,"y":12},{"s":"Trace. Col 10. Row 6","x":496,"y":-7},{"s":"Trace. Col 10. Row 6","x":498,"y":1},{"s":"Trace. Col 10. Row 6","x":500,"y":6},{"s":"Trace. Col 10. Row 6","x":502,"y":-4},{"s":"Trace. Col 10. Row 6","x":504,"y":9},{"s":"Trace. Col 10. Row 6","x":506,"y":-11},
{"s":"Trace. Col 10. Row 6","x":508,"y":2},{"s":"Trace. Col 10. Row 6","x":510,"y":7},{"s":"Trace. Col 10. Row 6","x":512,"y":-3},{"s":"Trace. Col 10. Row 6","x":514,"y":5},{"s":"Trace. Col 10. Row 6","x":516,"y":-8},{"s":"Trace. Col 10. Row 6","x":518,"y":10},{"s":"Trace. Col 10. Row 6","x":520,"y":0},{"s":"Trace. Col 10. Row 6","x":522,"y":-6},{"s":"Trace. Col 10. Row 6","x":524,"y":4},{"s":"Trace. Col 10. Row 6","x":526,"y":8},
{"s":"Trace. Col 10. Row 6","x":528,"y":-5},{"s":"Trace. Col 10. Row 6","x":530,"y":1},{"s":"Trace. Col 10. Row 6","x":532,"y":9},{"s":"Trace. Col 10. Row 6","x":534,"y":-2},{"s":"Trace. Col 10. Row 6","x":536,"y":6},{"s":"Trace. Col 10. Row 6","x":538,"y":-9},

{"s":"Trace. Col 4. Row 16","x":248,"y":6},{"s":"Trace. Col 4. Row 16","x":250,"y":-3},{"s":"Trace. Col 4. Row 16","x":252,"y":9},{"s":"Trace. Col 4. Row 16","x":254,"y":-7},{"s":"Trace. Col 4. Row 16","x":256,"y":2},{"s":"Trace. Col 4. Row 16","x":258,"y":11},{"s":"Trace. Col 4. Row 16","x":260,"y":-5},{"s":"Trace. Col 4. Row 16","x":262,"y":4},{"s":"Trace. Col 4. Row 16","x":264,"y":18},{"s":"Trace. Col 4. Row 16","x":266,"y":32},
{"s":"Trace. Col 4. Row 16","x":268,"y":30},{"s":"Trace. Col 4. Row 16","x":270,"y":8},{"s":"Trace. Col 4. Row 16","x":272,"y":37},{"s":"Trace. Col 4. Row 16","x":274,"y":35},{"s":"Trace. Col 4. Row 16","x":276,"y":2},{"s":"Trace. Col 4. Row 16","x":278,"y":-6},{"s":"Trace. Col 4. Row 16","x":280,"y":9},{"s":"Trace. Col 4. Row 16","x":282,"y":-2},{"s":"Trace. Col 4. Row 16","x":284,"y":5},{"s":"Trace. Col 4. Row 16","x":286,"y":-10},
{"s":"Trace. Col 4. Row 16","x":288,"y":3},{"s":"Trace. Col 4. Row 16","x":290,"y":8},{"s":"Trace. Col 4. Row 16","x":292,"y":-4},{"s":"Trace. Col 4. Row 16","x":294,"y":12},{"s":"Trace. Col 4. Row 16","x":296,"y":-8},{"s":"Trace. Col 4. Row 16","x":298,"y":1},{"s":"Trace. Col 4. Row 16","x":300,"y":6},{"s":"Trace. Col 4. Row 16","x":302,"y":-11},{"s":"Trace. Col 4. Row 16","x":304,"y":4},{"s":"Trace. Col 4. Row 16","x":306,"y":10},
{"s":"Trace. Col 4. Row 16","x":308,"y":7},{"s":"Trace. Col 4. Row 16","x":310,"y":18},{"s":"Trace. Col 4. Row 16","x":312,"y":5},{"s":"Trace. Col 4. Row 16","x":314,"y":3},{"s":"Trace. Col 4. Row 16","x":316,"y":8},{"s":"Trace. Col 4. Row 16","x":318,"y":-2},{"s":"Trace. Col 4. Row 16","x":320,"y":-7},{"s":"Trace. Col 4. Row 16","x":322,"y":4},{"s":"Trace. Col 4. Row 16","x":324,"y":11},{"s":"Trace. Col 4. Row 16","x":326,"y":-5},
{"s":"Trace. Col 4. Row 16","x":328,"y":2},{"s":"Trace. Col 4. Row 16","x":330,"y":-9},{"s":"Trace. Col 4. Row 16","x":332,"y":6},{"s":"Trace. Col 4. Row 16","x":334,"y":0},{"s":"Trace. Col 4. Row 16","x":336,"y":10},{"s":"Trace. Col 4. Row 16","x":338,"y":-4},{"s":"Trace. Col 4. Row 16","x":340,"y":7},{"s":"Trace. Col 4. Row 16","x":342,"y":-12},{"s":"Trace. Col 4. Row 16","x":344,"y":3},{"s":"Trace. Col 4. Row 16","x":346,"y":5},
{"s":"Trace. Col 4. Row 16","x":348,"y":-6},{"s":"Trace. Col 4. Row 16","x":350,"y":9},{"s":"Trace. Col 4. Row 16","x":352,"y":1},{"s":"Trace. Col 4. Row 16","x":354,"y":-3},{"s":"Trace. Col 4. Row 16","x":356,"y":8},{"s":"Trace. Col 4. Row 16","x":358,"y":-10},{"s":"Trace. Col 4. Row 16","x":360,"y":4},{"s":"Trace. Col 4. Row 16","x":362,"y":11},{"s":"Trace. Col 4. Row 16","x":364,"y":-2},{"s":"Trace. Col 4. Row 16","x":366,"y":6},
{"s":"Trace. Col 4. Row 16","x":368,"y":-8},{"s":"Trace. Col 4. Row 16","x":370,"y":3},{"s":"Trace. Col 4. Row 16","x":372,"y":7},{"s":"Trace. Col 4. Row 16","x":374,"y":-5},{"s":"Trace. Col 4. Row 16","x":376,"y":12},{"s":"Trace. Col 4. Row 16","x":378,"y":-1},{"s":"Trace. Col 4. Row 16","x":380,"y":5},{"s":"Trace. Col 4. Row 16","x":382,"y":-9},{"s":"Trace. Col 4. Row 16","x":384,"y":2},{"s":"Trace. Col 4. Row 16","x":386,"y":8},
{"s":"Trace. Col 4. Row 16","x":388,"y":-4},{"s":"Trace. Col 4. Row 16","x":390,"y":10},{"s":"Trace. Col 4. Row 16","x":392,"y":-7},{"s":"Trace. Col 4. Row 16","x":394,"y":1},{"s":"Trace. Col 4. Row 16","x":396,"y":6},{"s":"Trace. Col 4. Row 16","x":398,"y":-3},{"s":"Trace. Col 4. Row 16","x":400,"y":9},{"s":"Trace. Col 4. Row 16","x":402,"y":-11},{"s":"Trace. Col 4. Row 16","x":404,"y":4},{"s":"Trace. Col 4. Row 16","x":406,"y":0},
{"s":"Trace. Col 4. Row 16","x":408,"y":7},{"s":"Trace. Col 4. Row 16","x":410,"y":-6},{"s":"Trace. Col 4. Row 16","x":412,"y":3},{"s":"Trace. Col 4. Row 16","x":414,"y":11},{"s":"Trace. Col 4. Row 16","x":416,"y":-8},{"s":"Trace. Col 4. Row 16","x":418,"y":2},{"s":"Trace. Col 4. Row 16","x":420,"y":5},{"s":"Trace. Col 4. Row 16","x":422,"y":-4},{"s":"Trace. Col 4. Row 16","x":424,"y":9},{"s":"Trace. Col 4. Row 16","x":426,"y":-2},
{"s":"Trace. Col 4. Row 16","x":428,"y":6},{"s":"Trace. Col 4. Row 16","x":430,"y":-10},{"s":"Trace. Col 4. Row 16","x":432,"y":1},{"s":"Trace. Col 4. Row 16","x":434,"y":8},{"s":"Trace. Col 4. Row 16","x":436,"y":-5},{"s":"Trace. Col 4. Row 16","x":438,"y":12},{"s":"Trace. Col 4. Row 16","x":440,"y":3},{"s":"Trace. Col 4. Row 16","x":442,"y":-7},{"s":"Trace. Col 4. Row 16","x":444,"y":4},{"s":"Trace. Col 4. Row 16","x":446,"y":10},
{"s":"Trace. Col 4. Row 16","x":448,"y":-3},{"s":"Trace. Col 4. Row 16","x":450,"y":5},{"s":"Trace. Col 4. Row 16","x":452,"y":-9},{"s":"Trace. Col 4. Row 16","x":454,"y":7},{"s":"Trace. Col 4. Row 16","x":456,"y":2},{"s":"Trace. Col 4. Row 16","x":458,"y":-6},{"s":"Trace. Col 4. Row 16","x":460,"y":11},{"s":"Trace. Col 4. Row 16","x":462,"y":0},{"s":"Trace. Col 4. Row 16","x":464,"y":-12},{"s":"Trace. Col 4. Row 16","x":466,"y":4},
{"s":"Trace. Col 4. Row 16","x":468,"y":8},{"s":"Trace. Col 4. Row 16","x":470,"y":-2},{"s":"Trace. Col 4. Row 16","x":472,"y":6},{"s":"Trace. Col 4. Row 16","x":474,"y":-8},{"s":"Trace. Col 4. Row 16","x":476,"y":3},{"s":"Trace. Col 4. Row 16","x":478,"y":13},{"s":"Trace. Col 4. Row 16","x":480,"y":-5},{"s":"Trace. Col 4. Row 16","x":482,"y":1},{"s":"Trace. Col 4. Row 16","x":484,"y":9},{"s":"Trace. Col 4. Row 16","x":486,"y":-7},
{"s":"Trace. Col 4. Row 16","x":488,"y":2},{"s":"Trace. Col 4. Row 16","x":490,"y":10},{"s":"Trace. Col 4. Row 16","x":492,"y":-4},{"s":"Trace. Col 4. Row 16","x":494,"y":6},{"s":"Trace. Col 4. Row 16","x":496,"y":-11},{"s":"Trace. Col 4. Row 16","x":498,"y":3},{"s":"Trace. Col 4. Row 16","x":500,"y":8},{"s":"Trace. Col 4. Row 16","x":502,"y":-1},{"s":"Trace. Col 4. Row 16","x":504,"y":5},{"s":"Trace. Col 4. Row 16","x":506,"y":-9},
{"s":"Trace. Col 4. Row 16","x":508,"y":12},{"s":"Trace. Col 4. Row 16","x":510,"y":-3},{"s":"Trace. Col 4. Row 16","x":512,"y":7},{"s":"Trace. Col 4. Row 16","x":514,"y":1},{"s":"Trace. Col 4. Row 16","x":516,"y":-6},{"s":"Trace. Col 4. Row 16","x":518,"y":9},{"s":"Trace. Col 4. Row 16","x":520,"y":-10},{"s":"Trace. Col 4. Row 16","x":522,"y":4},{"s":"Trace. Col 4. Row 16","x":524,"y":0},{"s":"Trace. Col 4. Row 16","x":526,"y":6},
{"s":"Trace. Col 4. Row 16","x":528,"y":11},{"s":"Trace. Col 4. Row 16","x":530,"y":-5},{"s":"Trace. Col 4. Row 16","x":532,"y":3},{"s":"Trace. Col 4. Row 16","x":534,"y":-8},{"s":"Trace. Col 4. Row 16","x":536,"y":7},{"s":"Trace. Col 4. Row 16","x":538,"y":2},

{"s":"Trace. Col 5. Row 13","x":248,"y":-12},{"s":"Trace. Col 5. Row 13","x":250,"y":4},{"s":"Trace. Col 5. Row 13","x":252,"y":-6},{"s":"Trace. Col 5. Row 13","x":254,"y":8},{"s":"Trace. Col 5. Row 13","x":256,"y":-14},{"s":"Trace. Col 5. Row 13","x":258,"y":1},{"s":"Trace. Col 5. Row 13","x":260,"y":10},{"s":"Trace. Col 5. Row 13","x":262,"y":-9},{"s":"Trace. Col 5. Row 13","x":264,"y":3},{"s":"Trace. Col 5. Row 13","x":266,"y":-4},
{"s":"Trace. Col 5. Row 13","x":268,"y":7},{"s":"Trace. Col 5. Row 13","x":270,"y":-13},{"s":"Trace. Col 5. Row 13","x":272,"y":2},{"s":"Trace. Col 5. Row 13","x":274,"y":-7},{"s":"Trace. Col 5. Row 13","x":276,"y":9},{"s":"Trace. Col 5. Row 13","x":278,"y":-1},{"s":"Trace. Col 5. Row 13","x":280,"y":-10},{"s":"Trace. Col 5. Row 13","x":282,"y":5},{"s":"Trace. Col 5. Row 13","x":284,"y":-5},{"s":"Trace. Col 5. Row 13","x":286,"y":11},
{"s":"Trace. Col 5. Row 13","x":288,"y":-8},{"s":"Trace. Col 5. Row 13","x":290,"y":3},{"s":"Trace. Col 5. Row 13","x":292,"y":-12},{"s":"Trace. Col 5. Row 13","x":294,"y":6},{"s":"Trace. Col 5. Row 13","x":296,"y":-3},{"s":"Trace. Col 5. Row 13","x":298,"y":9},{"s":"Trace. Col 5. Row 13","x":300,"y":-9},{"s":"Trace. Col 5. Row 13","x":302,"y":4},{"s":"Trace. Col 5. Row 13","x":304,"y":50},{"s":"Trace. Col 5. Row 13","x":306,"y":55},
{"s":"Trace. Col 5. Row 13","x":308,"y":71},{"s":"Trace. Col 5. Row 13","x":310,"y":45},{"s":"Trace. Col 5. Row 13","x":312,"y":76},{"s":"Trace. Col 5. Row 13","x":314,"y":55},{"s":"Trace. Col 5. Row 13","x":316,"y":50},{"s":"Trace. Col 5. Row 13","x":318,"y":3},{"s":"Trace. Col 5. Row 13","x":320,"y":-8},{"s":"Trace. Col 5. Row 13","x":322,"y":6},{"s":"Trace. Col 5. Row 13","x":324,"y":-11},{"s":"Trace. Col 5. Row 13","x":326,"y":2},
{"s":"Trace. Col 5. Row 13","x":328,"y":8},{"s":"Trace. Col 5. Row 13","x":330,"y":27},{"s":"Trace. Col 5. Row 13","x":332,"y":-6},{"s":"Trace. Col 5. Row 13","x":334,"y":4},{"s":"Trace. Col 5. Row 13","x":336,"y":-13},{"s":"Trace. Col 5. Row 13","x":338,"y":10},{"s":"Trace. Col 5. Row 13","x":340,"y":-2},{"s":"Trace. Col 5. Row 13","x":342,"y":7},{"s":"Trace. Col 5. Row 13","x":344,"y":-10},{"s":"Trace. Col 5. Row 13","x":346,"y":1},
{"s":"Trace. Col 5. Row 13","x":348,"y":5},{"s":"Trace. Col 5. Row 13","x":350,"y":-12},{"s":"Trace. Col 5. Row 13","x":352,"y":9},{"s":"Trace. Col 5. Row 13","x":354,"y":-4},{"s":"Trace. Col 5. Row 13","x":356,"y":3},{"s":"Trace. Col 5. Row 13","x":358,"y":-9},{"s":"Trace. Col 5. Row 13","x":360,"y":12},{"s":"Trace. Col 5. Row 13","x":362,"y":-7},{"s":"Trace. Col 5. Row 13","x":364,"y":0},{"s":"Trace. Col 5. Row 13","x":366,"y":6},
{"s":"Trace. Col 5. Row 13","x":368,"y":-11},{"s":"Trace. Col 5. Row 13","x":370,"y":4},{"s":"Trace. Col 5. Row 13","x":372,"y":-5},{"s":"Trace. Col 5. Row 13","x":374,"y":11},{"s":"Trace. Col 5. Row 13","x":376,"y":-8},{"s":"Trace. Col 5. Row 13","x":378,"y":2},{"s":"Trace. Col 5. Row 13","x":380,"y":-13},{"s":"Trace. Col 5. Row 13","x":382,"y":7},{"s":"Trace. Col 5. Row 13","x":384,"y":1},{"s":"Trace. Col 5. Row 13","x":386,"y":-6},
{"s":"Trace. Col 5. Row 13","x":388,"y":9},{"s":"Trace. Col 5. Row 13","x":390,"y":-10},{"s":"Trace. Col 5. Row 13","x":392,"y":3},{"s":"Trace. Col 5. Row 13","x":394,"y":-4},{"s":"Trace. Col 5. Row 13","x":396,"y":13},{"s":"Trace. Col 5. Row 13","x":398,"y":-9},{"s":"Trace. Col 5. Row 13","x":400,"y":5},{"s":"Trace. Col 5. Row 13","x":402,"y":-12},{"s":"Trace. Col 5. Row 13","x":404,"y":8},{"s":"Trace. Col 5. Row 13","x":406,"y":0},
{"s":"Trace. Col 5. Row 13","x":408,"y":-7},{"s":"Trace. Col 5. Row 13","x":410,"y":6},{"s":"Trace. Col 5. Row 13","x":412,"y":-14},{"s":"Trace. Col 5. Row 13","x":414,"y":3},{"s":"Trace. Col 5. Row 13","x":416,"y":10},{"s":"Trace. Col 5. Row 13","x":418,"y":-5},{"s":"Trace. Col 5. Row 13","x":420,"y":1},{"s":"Trace. Col 5. Row 13","x":422,"y":-11},{"s":"Trace. Col 5. Row 13","x":424,"y":7},{"s":"Trace. Col 5. Row 13","x":426,"y":-3},
{"s":"Trace. Col 5. Row 13","x":428,"y":4},{"s":"Trace. Col 5. Row 13","x":430,"y":-9},{"s":"Trace. Col 5. Row 13","x":432,"y":12},{"s":"Trace. Col 5. Row 13","x":434,"y":-6},{"s":"Trace. Col 5. Row 13","x":436,"y":2},{"s":"Trace. Col 5. Row 13","x":438,"y":-13},{"s":"Trace. Col 5. Row 13","x":440,"y":8},{"s":"Trace. Col 5. Row 13","x":442,"y":0},{"s":"Trace. Col 5. Row 13","x":444,"y":-10},{"s":"Trace. Col 5. Row 13","x":446,"y":5},
{"s":"Trace. Col 5. Row 13","x":448,"y":14},{"s":"Trace. Col 5. Row 13","x":450,"y":-7},{"s":"Trace. Col 5. Row 13","x":452,"y":3},{"s":"Trace. Col 5. Row 13","x":454,"y":-11},{"s":"Trace. Col 5. Row 13","x":456,"y":6},{"s":"Trace. Col 5. Row 13","x":458,"y":-2},{"s":"Trace. Col 5. Row 13","x":460,"y":10},{"s":"Trace. Col 5. Row 13","x":462,"y":-8},{"s":"Trace. Col 5. Row 13","x":464,"y":1},{"s":"Trace. Col 5. Row 13","x":466,"y":-14},
{"s":"Trace. Col 5. Row 13","x":468,"y":7},{"s":"Trace. Col 5. Row 13","x":470,"y":-4},{"s":"Trace. Col 5. Row 13","x":472,"y":11},{"s":"Trace. Col 5. Row 13","x":474,"y":-9},{"s":"Trace. Col 5. Row 13","x":476,"y":2},{"s":"Trace. Col 5. Row 13","x":478,"y":5},{"s":"Trace. Col 5. Row 13","x":480,"y":-12},{"s":"Trace. Col 5. Row 13","x":482,"y":8},{"s":"Trace. Col 5. Row 13","x":484,"y":-6},{"s":"Trace. Col 5. Row 13","x":486,"y":3},
{"s":"Trace. Col 5. Row 13","x":488,"y":-10},{"s":"Trace. Col 5. Row 13","x":490,"y":9},{"s":"Trace. Col 5. Row 13","x":492,"y":1},{"s":"Trace. Col 5. Row 13","x":494,"y":-7},{"s":"Trace. Col 5. Row 13","x":496,"y":4},{"s":"Trace. Col 5. Row 13","x":498,"y":12},{"s":"Trace. Col 5. Row 13","x":500,"y":-13},{"s":"Trace. Col 5. Row 13","x":502,"y":6},{"s":"Trace. Col 5. Row 13","x":504,"y":-3},{"s":"Trace. Col 5. Row 13","x":506,"y":10},
{"s":"Trace. Col 5. Row 13","x":508,"y":-8},{"s":"Trace. Col 5. Row 13","x":510,"y":2},{"s":"Trace. Col 5. Row 13","x":512,"y":7},{"s":"Trace. Col 5. Row 13","x":514,"y":-11},{"s":"Trace. Col 5. Row 13","x":516,"y":5},{"s":"Trace. Col 5. Row 13","x":518,"y":14},{"s":"Trace. Col 5. Row 13","x":520,"y":-6},{"s":"Trace. Col 5. Row 13","x":522,"y":0},{"s":"Trace. Col 5. Row 13","x":524,"y":-9},{"s":"Trace. Col 5. Row 13","x":526,"y":8},
{"s":"Trace. Col 5. Row 13","x":528,"y":3},{"s":"Trace. Col 5. Row 13","x":530,"y":-12},{"s":"Trace. Col 5. Row 13","x":532,"y":6},{"s":"Trace. Col 5. Row 13","x":534,"y":20},{"s":"Trace. Col 5. Row 13","x":536,"y":-5},{"s":"Trace. Col 5. Row 13","x":538,"y":9}
]},
"data": {"name": "traces"},
"layer": [
 {
  "mark": {"type": "line", "interpolate": "step-after", "strokeWidth": 2, "clip": true},
  "encoding": {
   "x": {"field": "x", "type": "quantitative", "scale": {"domain": [249.5, 538], "nice": false, "zero": false},
         "axis": {"orient": "bottom", "values": [250,260,270,280,290,300,310,320,330,340,350,360,370,380,390,400,410,420,430,440,450,460,470,480,490,500,510,520,530],
                  "labelExpr": "datum.value % 50 === 0 ? datum.label : ''",
                  "tickSize": {"condition": {"test": "datum.value % 50 === 0", "value": -10}, "value": -5},
                  "tickWidth": 1.5, "domainWidth": 2, "labelPadding": 13, "labelFlush": false, "labelOverlap": false}},
   "y": {"field": "y", "type": "quantitative", "scale": {"domain": [-19.5, 155.5], "nice": false, "zero": false},
         "axis": {"orient": "left", "values": [-16,-12,-8,-4,0,4,8,12,16,20,24,28,32,36,40,44,48,52,56,60,64,68,72,76,80,84,88,92,96,100,104,108,112,116,120,124,128,132,136,140,144,148,152],
                  "labelExpr": "datum.value % 20 === 0 && datum.value <= 100 ? datum.label : ''",
                  "tickSize": {"condition": {"test": "datum.value % 20 === 0", "value": -13}, "value": -6},
                  "tickWidth": 1.5, "domainWidth": 2, "labelPadding": 19, "labelFlush": false, "labelOverlap": false}},
   "color": {"field": "s", "type": "nominal",
     "scale": {"domain": ["Trace. Col 9. Row 7", "Trace. Col 9. Row 8", "Trace. Col 11. Row 3", "Trace. Col 10. Row 6", "Trace. Col 4. Row 16", "Trace. Col 5. Row 13"],
               "range": ["#000000", "#55d455", "#2e2ea8", "#ffff3a", "#cc33cc", "#55dcdc"]},
     "legend": {"orient": "none", "legendX": -62, "legendY": -45, "title": null,
       "symbolType": "square", "symbolSize": 324, "symbolOpacity": 0, "symbolStrokeWidth": 0,
       "labelFont": "Liberation Sans", "labelFontWeight": "bold", "labelFontSize": 17.5, "labelOffset": 8, "labelLimit": 400,
       "labelExpr": "datum.label + '\u00a0\u00a0\u00a0\u00a0\u00a0\u00a0'",
       "rowPadding": 1.25, "padding": 4, "fillColor": "#f3f3f3", "strokeColor": "#000000",
       "encode": {"legend": {"update": {"strokeWidth": {"value": 2}}}, "labels": {"update": {"fill": {"scale": "color", "field": "value"}, "dy": {"value": 2}}}}}}
  }
 },
 {
  "mark": {"type": "point", "opacity": 0},
  "encoding": {
   "x": {"field": "x", "type": "quantitative", "scale": {"domain": [249.5, 538], "nice": false, "zero": false},
         "axis": {"orient": "top", "ticks": false, "labels": false, "domainWidth": 2, "domainColor": "#555555"}},
   "y": {"field": "y", "type": "quantitative", "scale": {"domain": [-19.5, 155.5], "nice": false, "zero": false},
         "axis": {"orient": "left", "offset": 63, "ticks": false, "labels": false, "domainWidth": 2, "domainColor": "#555555"}}
  }
 },
 {
  "mark": {"type": "point", "opacity": 0},
  "encoding": {
   "x": {"field": "x", "type": "quantitative", "scale": {"domain": [249.5, 538], "nice": false, "zero": false},
         "axis": {"orient": "top", "offset": 46, "ticks": false, "labels": false, "domainWidth": 2, "domainColor": "#555555"}}
  }
 }
],
"resolve": {"axis": {"x": "independent", "y": "independent"}}
}
